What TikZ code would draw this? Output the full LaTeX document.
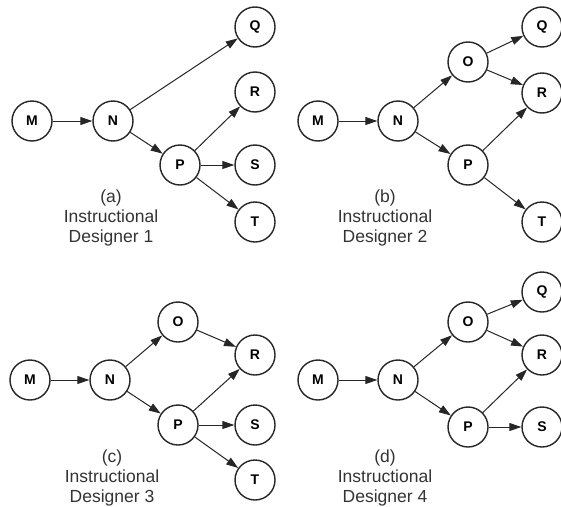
\documentclass[tikz,border=0pt]{standalone}
\usepackage{fontspec}
\setmainfont{Liberation Sans}
\usetikzlibrary{arrows.meta}

\begin{document}
\begin{tikzpicture}[x=1pt, y=-1pt,
  st/.style={circle, draw=black!85, line width=1.4pt, fill=white, minimum size=40pt,
             inner sep=0pt, font=\fontsize{14}{14}\selectfont\bfseries},
  arr/.style={-{Triangle[length=12pt, width=8pt]}, line width=1pt, draw=black!85},
  capt/.style={align=center, font=\fontsize{17.5}{20}\selectfont, text=black!80}
]
  \useasboundingbox (0,0) rectangle (561,506);

  % (a)
  \node[st] (Ma) at (32,121)  {M};
  \node[st] (Na) at (113,121) {N};
  \node[st] (Pa) at (180,165) {P};
  \node[st] (Qa) at (255,27)  {Q};
  \node[st] (Ra) at (255,92)  {R};
  \node[st] (Sa) at (255,165) {S};
  \node[st] (Ta) at (255,222) {T};
  \draw[arr] (Ma) -- (Na);
  \draw[arr] (Na) -- (Qa);
  \draw[arr] (Na) -- (Pa);
  \draw[arr] (Pa) -- (Ra);
  \draw[arr] (Pa) -- (Sa);
  \draw[arr] (Pa) -- (Ta);
  \node[capt] (capa) at (111,218) {(a)\\Instructional\\Designer 1};

  % (b)
  \node[st] (Mb) at (318,121) {M};
  \node[st] (Nb) at (398,121) {N};
  \node[st] (Ob) at (468,62)  {O};
  \node[st] (Pb) at (468,165) {P};
  \node[st] (Qb) at (542,27)  {Q};
  \node[st] (Rb) at (542,93)  {R};
  \node[st] (Tb) at (542,222) {T};
  \draw[arr] (Mb) -- (Nb);
  \draw[arr] (Nb) -- (Ob);
  \draw[arr] (Nb) -- (Pb);
  \draw[arr] (Ob) -- (Qb);
  \draw[arr] (Ob) -- (Rb);
  \draw[arr] (Pb) -- (Rb);
  \draw[arr] (Pb) -- (Tb);
  \node[capt] (capb) at (385,218) {(b)\\Instructional\\Designer 2};

  % (c)
  \node[st] (Mc) at (30,380)  {M};
  \node[st] (Nc) at (110,380) {N};
  \node[st] (Oc) at (178,322) {O};
  \node[st] (Pc) at (178,425) {P};
  \node[st] (Rc) at (255,355) {R};
  \node[st] (Sc) at (255,425) {S};
  \node[st] (Tc) at (255,480) {T};
  \draw[arr] (Mc) -- (Nc);
  \draw[arr] (Nc) -- (Oc);
  \draw[arr] (Nc) -- (Pc);
  \draw[arr] (Oc) -- (Rc);
  \draw[arr] (Pc) -- (Rc);
  \draw[arr] (Pc) -- (Sc);
  \draw[arr] (Pc) -- (Tc);
  \node[capt] (capc) at (112,478) {(c)\\Instructional\\Designer 3};

  % (d)
  \node[st] (Md) at (318,380) {M};
  \node[st] (Nd) at (398,380) {N};
  \node[st] (Od) at (468,322) {O};
  \node[st] (Pd) at (468,427) {P};
  \node[st] (Qd) at (542,292) {Q};
  \node[st] (Rd) at (542,355) {R};
  \node[st] (Sd) at (542,427) {S};
  \draw[arr] (Md) -- (Nd);
  \draw[arr] (Nd) -- (Od);
  \draw[arr] (Nd) -- (Pd);
  \draw[arr] (Od) -- (Qd);
  \draw[arr] (Od) -- (Rd);
  \draw[arr] (Pd) -- (Rd);
  \draw[arr] (Pd) -- (Sd);
  \node[capt] (capd) at (385,478) {(d)\\Instructional\\Designer 4};
\end{tikzpicture}
\end{document}
